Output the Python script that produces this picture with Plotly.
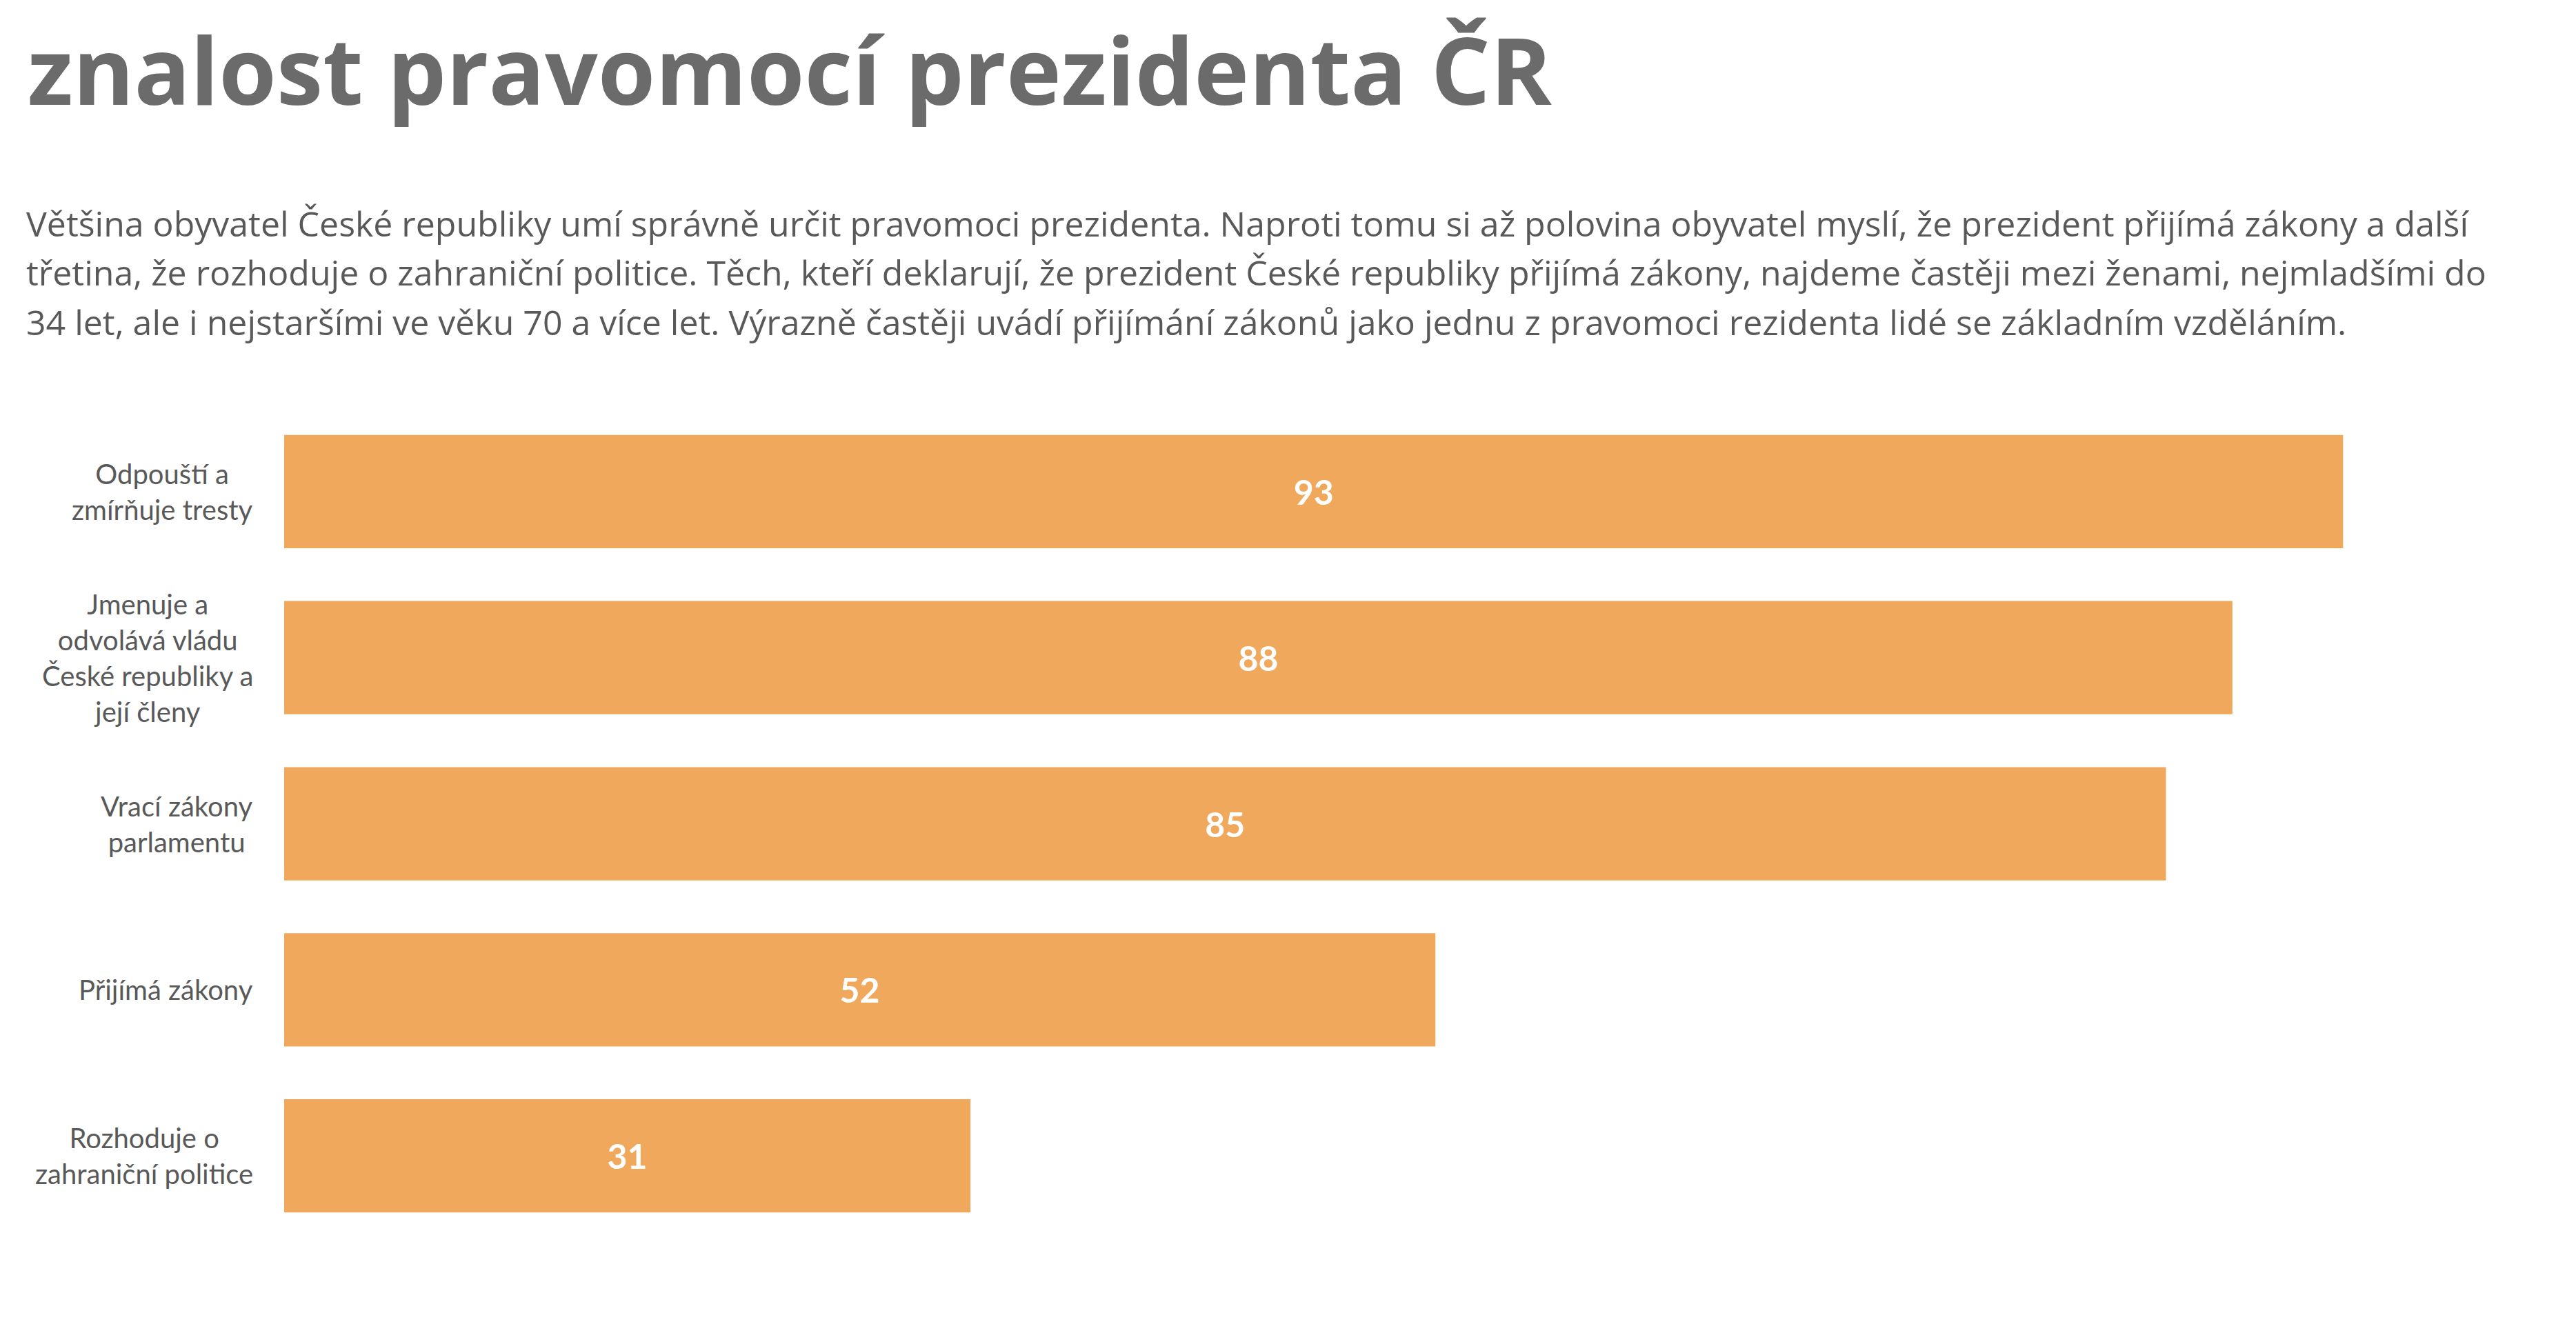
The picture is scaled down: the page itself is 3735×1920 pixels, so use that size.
import plotly.graph_objects as go

title_text = "znalost pravomocí prezidenta ČR"
paragraph_lines = [
    "Většina obyvatel České republiky umí správně určit pravomoci prezidenta. Naproti tomu si až polovina obyvatel myslí, že prezident přijímá zákony a další",
    "třetina, že rozhoduje o zahraniční politice. Těch, kteří deklarují, že prezident České republiky přijímá zákony, najdeme častěji mezi ženami, nejmladšími do",
    "34 let, ale i nejstaršími ve věku 70 a více let. Výrazně častěji uvádí přijímání zákonů jako jednu z pravomoci rezidenta lidé se základním vzděláním.",
]
categories = [
    "Odpouští a<br>zmírňuje tresty",
    "Jmenuje a<br>odvolává vládu<br>České republiky a<br>její členy",
    "Vrací zákony<br>parlamentu",
    "Přijímá zákony",
    "Rozhoduje o<br>zahraniční politice",
]
values = [93, 88, 85, 52, 31]

W, H = 3735, 1920
BAR_COLOR = "#F0A95C"
LABEL_COLOR = "#595959"

fig = go.Figure()
fig.add_trace(go.Bar(
    x=values,
    y=categories,
    orientation="h",
    marker=dict(color=BAR_COLOR, line=dict(width=0)),
    text=[str(v) for v in values],
    textposition="inside",
    insidetextanchor="middle",
    textfont=dict(family="Lato", size=50, color="white", weight="bold"),
    hoverinfo="skip",
))

x0 = 412 / W
x1 = (412 + 3210) / W
fig.update_layout(
    width=W, height=H,
    margin=dict(l=0, r=0, t=0, b=0),
    paper_bgcolor="white",
    plot_bgcolor="white",
    showlegend=False,
    bargap=0.318,
    xaxis=dict(domain=[x0, x1], range=[0, 100], visible=False, fixedrange=True),
    yaxis=dict(domain=[0.0643, 0.6914], autorange="reversed", showticklabels=False,
               showgrid=False, zeroline=False, showline=False, ticks=""),
)

annotations = []
annotations.append(dict(
    text=title_text, xref="paper", yref="paper", x=38 / W, y=1 - 100 / H,
    xanchor="left", yanchor="middle", showarrow=False, align="left",
    font=dict(family="Open Sans", size=135, color="#6B6B6B", weight="bold"),
))
para_y = [324, 395, 467]
for line, py in zip(paragraph_lines, para_y):
    annotations.append(dict(
        text=line, xref="paper", yref="paper", x=36 / W, y=1 - py / H,
        xanchor="left", yanchor="middle", showarrow=False, align="left",
        font=dict(family="Open Sans", size=50, color=LABEL_COLOR),
    ))
for c in categories:
    annotations.append(dict(
        text=c, xref="paper", yref="y", x=369 / W, y=c,
        xanchor="right", yanchor="middle", showarrow=False, align="center",
        font=dict(family="Lato", size=40, color=LABEL_COLOR),
    ))
fig.update_layout(annotations=annotations)

fig.write_html("out.html")
